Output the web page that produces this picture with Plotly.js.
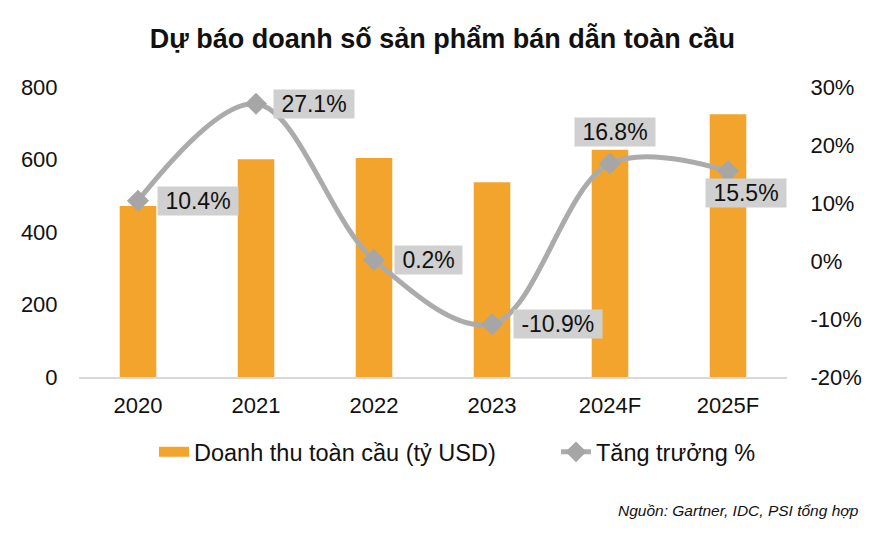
<!DOCTYPE html>
<html>
<head>
<meta charset="utf-8">
<script src="https://cdn.plot.ly/plotly-3.0.1.min.js"></script>
<style>html,body{margin:0;padding:0;background:#fff;}#chart{width:890px;height:533px;}</style>
</head>
<body>
<div id="chart"></div>
<script>
// Data
const categories = ["2020", "2021", "2022", "2023", "2024F", "2025F"];
const revenue = [472, 601, 604, 537, 627, 725];        // tỷ USD
const growth = [10.4, 27.1, 0.2, -10.9, 16.8, 15.5];    // %
const growthLabels = ["10.4%", "27.1%", "0.2%", "-10.9%", "16.8%", "15.5%"];
const leftTicks = [0, 200, 400, 600, 800];
const rightTicks = [-20, -10, 0, 10, 20, 30];
const rightTickText = ["-20%", "-10%", "0%", "10%", "20%", "30%"];

// label placement (style only)
const labelXShift = [60, 58, 54, 66, 5, 18];
const labelYShift = [0, 0, 0, 0, 32, -22];

const FONT = "Liberation Sans, Arial, sans-serif";
const BAR_COLOR = "#F3A42D";
const NB = "\u00A0";

const traces = [
  {
    type: "bar",
    x: categories,
    y: revenue,
    name: "Doanh thu toàn cầu (tỷ USD)",
    marker: {color: BAR_COLOR},
    yaxis: "y",
    showlegend: false,
    hoverinfo: "skip"
  },
  {
    // legend-only entry to draw a wide swatch like the reference
    type: "scatter",
    mode: "lines",
    x: [null],
    y: [null],
    name: "Doanh thu toàn cầu (tỷ USD)",
    line: {color: BAR_COLOR, width: 13},
    showlegend: true,
    legend: "legend",
    hoverinfo: "skip"
  },
  {
    type: "scatter",
    mode: "lines+markers",
    x: categories,
    y: growth,
    name: "Tăng trưởng %",
    yaxis: "y2",
    legend: "legend2",
    line: {color: "#ABABAB", width: 5, shape: "spline", smoothing: 1},
    marker: {symbol: "diamond", size: 17, color: "#A6A6A6"},
    hoverinfo: "skip"
  }
];

const annotations = categories.map((c, i) => ({
  x: i, y: growth[i], xref: "x", yref: "y2",
  text: NB + growthLabels[i] + NB,
  showarrow: false,
  xanchor: "center", yanchor: "middle",
  xshift: labelXShift[i], yshift: labelYShift[i],
  bgcolor: "#D0D0D0",
  borderpad: 1,
  font: {family: FONT, size: 23, color: "#111"}
}));

annotations.push({
  xref: "paper", yref: "paper", x: 1.104, y: -0.46,
  xanchor: "right", yanchor: "middle",
  text: "<i>Nguồn: Gartner, IDC, PSI tổng hợp</i>",
  showarrow: false,
  font: {family: FONT, size: 15.5, color: "#111"}
});

const legendCommon = {
  orientation: "h", xref: "container", yref: "container", yanchor: "middle",
  y: (533 - 452) / 533, xanchor: "left",
  font: {family: FONT, size: 23.5, color: "#111"}, bgcolor: "rgba(0,0,0,0)"
};

const layout = {
  width: 890, height: 533,
  margin: {l: 79, r: 103, t: 87, b: 156},
  paper_bgcolor: "#fff", plot_bgcolor: "#fff",
  title: {text: "<b>Dự báo doanh số sản phẩm bán dẫn toàn cầu</b>", x: 0.497, xanchor: "center", y: 0.928, yanchor: "middle",
          font: {family: FONT, size: 27, color: "#111"}},
  font: {family: FONT, size: 23, color: "#111"},
  bargap: 0.69,
  showlegend: true,
  legend: Object.assign({}, legendCommon, {x: 154 / 890}),
  legend2: Object.assign({}, legendCommon, {x: 556 / 890}),
  xaxis: {
    type: "category", categoryorder: "array", categoryarray: categories,
    range: [-0.5, categories.length - 0.5], autorange: false,
    showgrid: false, zeroline: false,
    showline: true, linecolor: "#D9D9D9", linewidth: 2,
    ticks: "outside", ticklen: 8, tickcolor: "rgba(0,0,0,0)",
    tickfont: {family: FONT, size: 22, color: "#111"}
  },
  yaxis: {
    range: [0, 800], autorange: false, tickvals: leftTicks, showgrid: false, zeroline: false, showline: false,
    ticks: "outside", ticklen: 16, tickcolor: "rgba(0,0,0,0)",
    tickfont: {family: FONT, size: 22, color: "#111"}
  },
  yaxis2: {
    range: [-20, 30], autorange: false, tickvals: rightTicks, ticktext: rightTickText, overlaying: "y", side: "right",
    showgrid: false, zeroline: false, showline: false,
    ticks: "outside", ticklen: 18, tickcolor: "rgba(0,0,0,0)",
    tickfont: {family: FONT, size: 22, color: "#111"}
  },
  annotations: annotations
};

Plotly.newPlot("chart", traces, layout, {displayModeBar: false, staticPlot: true});
</script>
</body>
</html>
